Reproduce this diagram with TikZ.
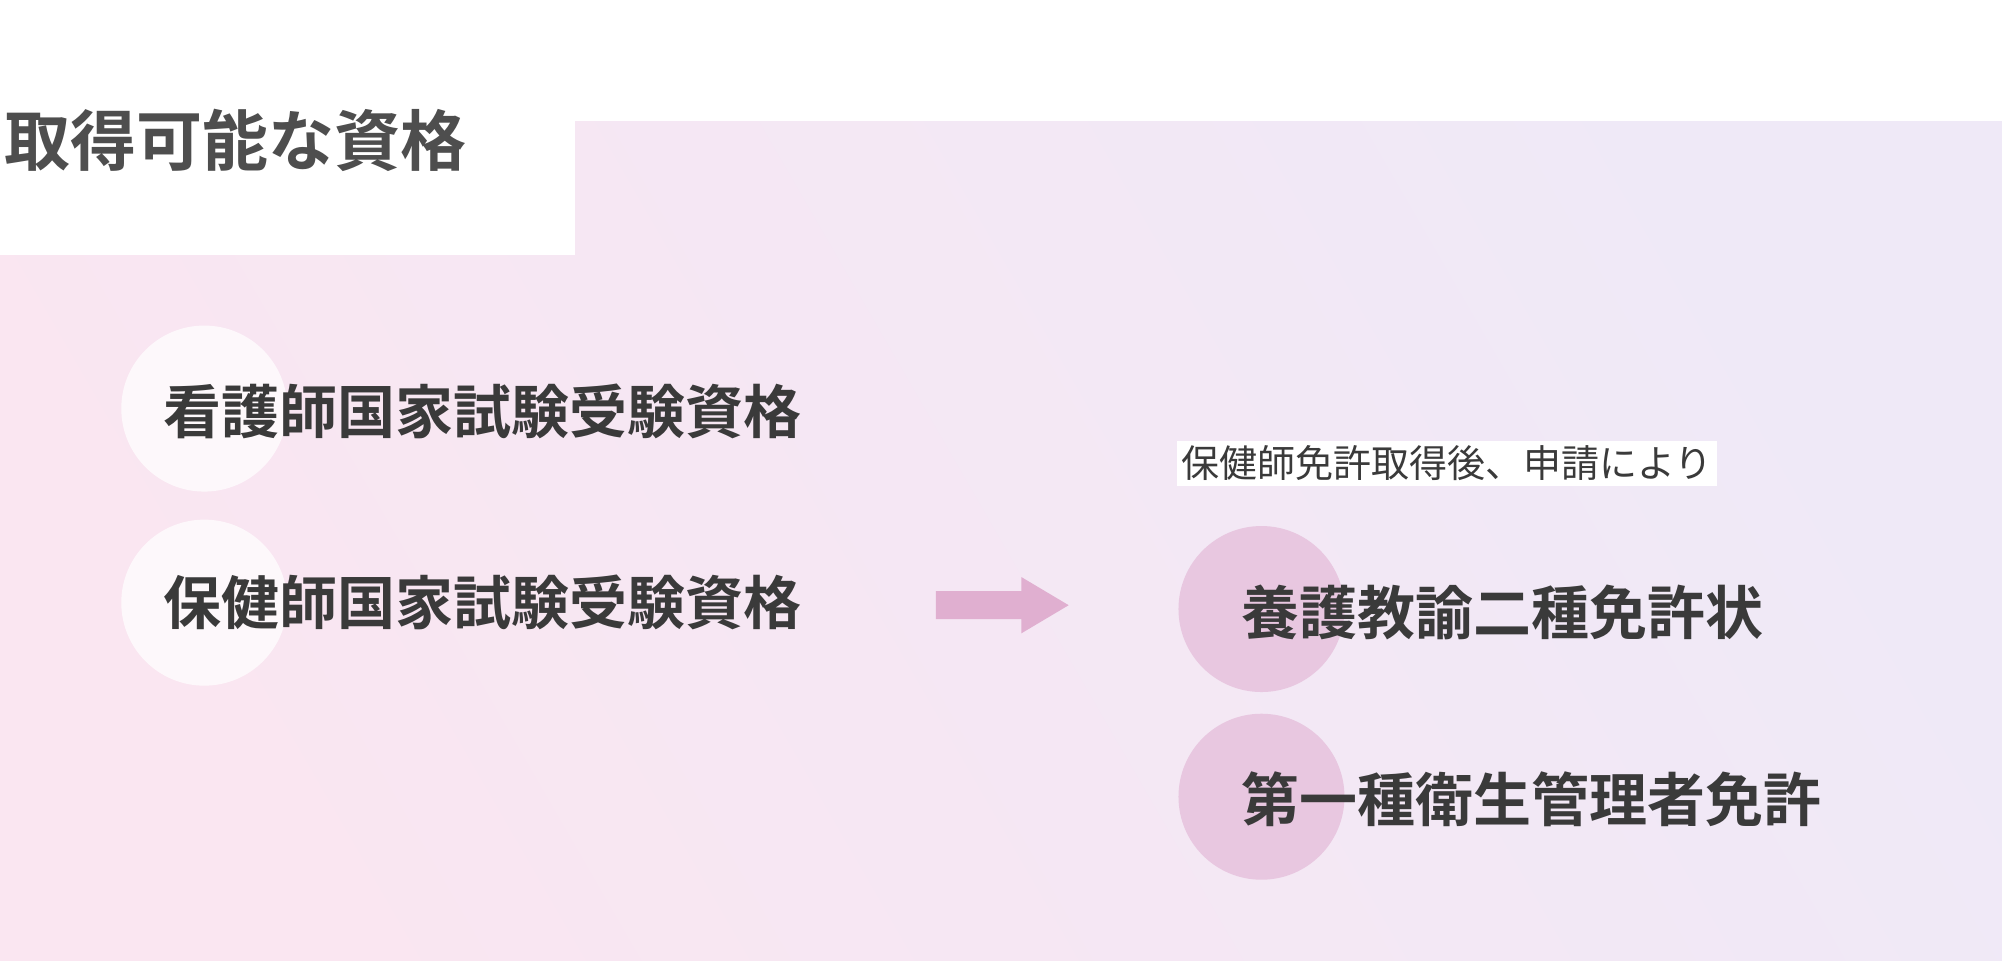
\documentclass[tikz,border=0pt]{standalone}
\usepackage{fontspec}
\newfontfamily\jp{Noto Sans CJK JP}
\newfontfamily\jpb{Noto Sans CJK JP Bold}
\definecolor{pinkA}{HTML}{FAE6F1}
\definecolor{lavB}{HTML}{EFE9F7}
\definecolor{arrowc}{HTML}{E0AFD0}
\definecolor{pc}{HTML}{E8C7E0}
\definecolor{txt}{HTML}{3A3A3A}
\begin{document}
\begin{tikzpicture}[x=1.2768pt,y=-1.2768pt,
  big/.style={font=\jpb\fontsize{58}{60}\selectfont,text=txt,anchor=west,inner sep=0},
  wc/.style={circle,fill=white,fill opacity=0.75,minimum size=166pt,inner sep=0},
  pcirc/.style={circle,fill=pc,minimum size=166pt,inner sep=0}]
\useasboundingbox (0,0) rectangle (1568,752);
\fill[white] (0,0) rectangle (1568,752);
\shade[left color=pinkA,right color=lavB,shading angle=120] (0,95) rectangle (1568,752);
\fill[white] (0,95) rectangle (450,200);
\node[font=\jpb\fontsize{66}{68}\selectfont,text=txt!90,anchor=west,inner sep=0] (title) at (3,110) {取得可能な資格};
\node[wc] (c1) at (160,320) {};
\node[wc] (c2) at (160,472) {};
\node[big] (t1) at (128,322) {看護師国家試験受験資格};
\node[big] (t2) at (128,472) {保健師国家試験受験資格};
\coordinate (a1) at (733,474);
\coordinate (a2) at (837,474);
\fill[arrowc] (733,463) -- (800,463) -- (800,452) -- (837,474) -- (800,496) -- (800,485) -- (733,485) -- cycle;
\node[fill=white,font=\jp\fontsize{38}{40}\selectfont,text=txt,inner xsep=4pt,inner ysep=5pt,anchor=west] (lab) at (922,363) {保健師免許取得後、申請により};
\node[pcirc] (p1) at (988,477) {};
\node[pcirc] (p2) at (988,624) {};
\node[big] (t3) at (972,480) {養護教諭二種免許状};
\node[big] (t4) at (972,626) {第一種衛生管理者免許};
\end{tikzpicture}
\end{document}
